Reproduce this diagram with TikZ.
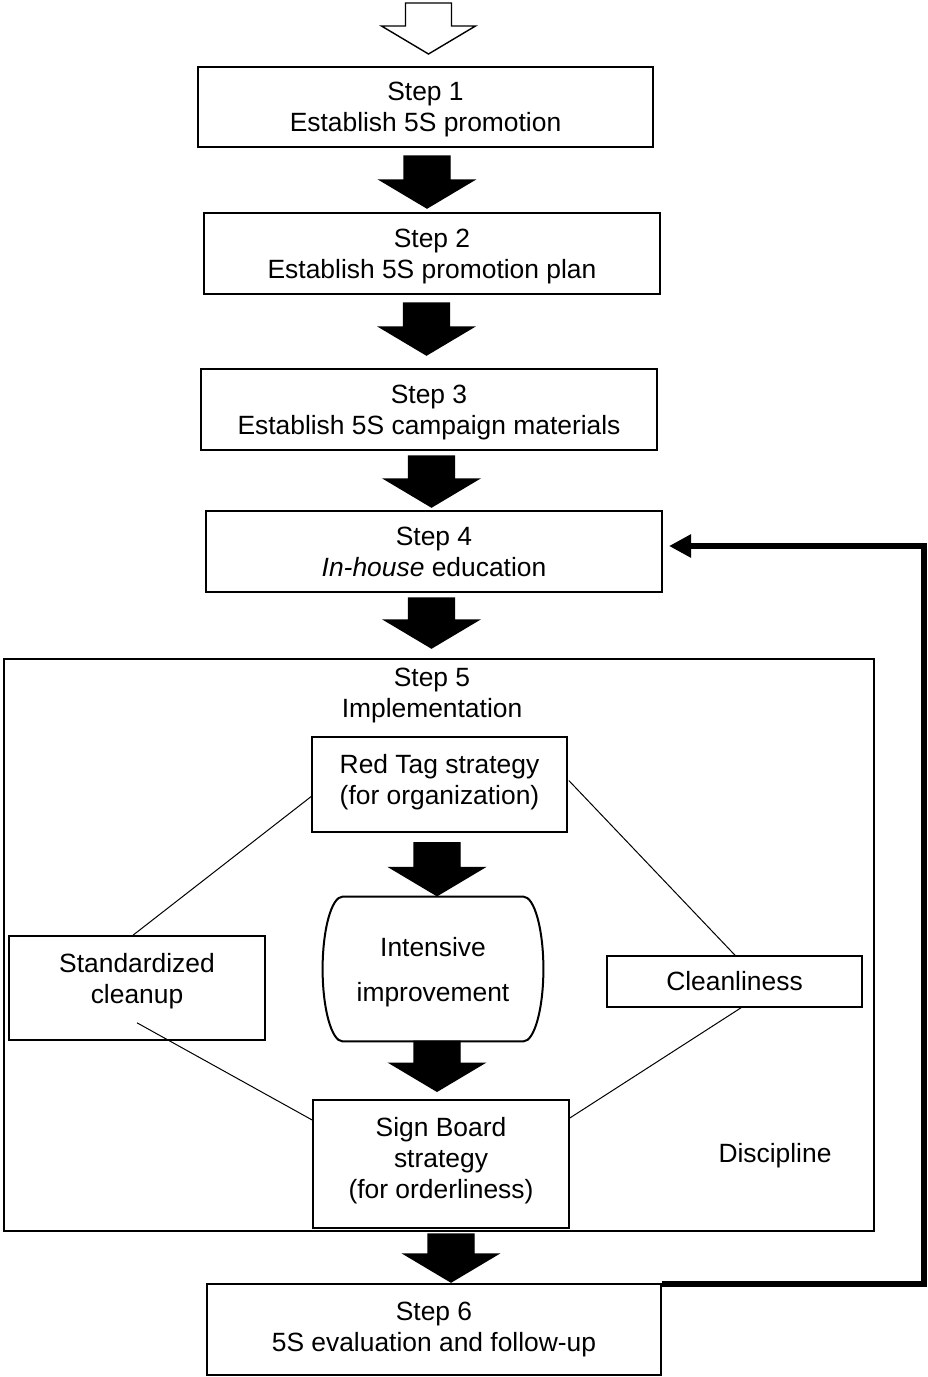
\documentclass[tikz,border=0pt]{standalone}
\usepackage{fontspec}
\setmainfont{Liberation Sans}
\usetikzlibrary{calc,arrows.meta}
\newcommand\txt{\fontsize{13.2pt}{15.5pt}\selectfont}
% block arrow: #1 fill, #2 start (only y used), #3 tip
\newcommand\blockarr[3][black]{%
  \filldraw[fill=#1,draw=black,line width=0.7pt,line join=miter] let \p1=(#2), \p2=(#3) in
   (\x2-11.5pt,\y1) -- (\x2+11.5pt,\y1) -- (\x2+11.5pt,\y2+14pt) -- (\x2+23.5pt,\y2+14pt)
   -- (\x2,\y2) -- (\x2-23.5pt,\y2+14pt) -- (\x2-11.5pt,\y2+14pt) -- cycle;}
\tikzset{
  stepbox/.style={draw, line width=1pt, minimum width=228pt, minimum height=40.5pt,
    inner sep=0pt, align=center, font=\txt},
  innerbox/.style={draw, line width=0.8pt, inner sep=0pt, align=center, font=\txt},
  plaintext/.style={inner sep=0pt, align=center, font=\txt},
  thinline/.style={line width=0.5pt},
  fbline/.style={line width=3pt, -{Triangle[length=11pt,width=11pt]}}
}
\begin{document}
\begin{tikzpicture}[x=0.5pt,y=-0.5pt]
\useasboundingbox (0,0) rectangle (927,1377);

% step boxes
\node[stepbox, minimum width=227.5pt, minimum height=40pt, text depth=0pt] (s1) at (425.5,107) {Step 1\\Establish 5S promotion};
\node[stepbox, text depth=0pt] (s2) at (432,253.5) {Step 2\\Establish 5S promotion plan};
\node[stepbox, text depth=0pt] (s3) at (429,409.5) {Step 3\\Establish 5S campaign materials};
\node[stepbox, text depth=0pt] (s4) at (434,551.5) {Step 4\\\textit{In-house} education};
\node[draw, line width=1pt, minimum width=435pt, minimum height=286pt, inner sep=0pt] (s5) at (439,945) {};
\node[plaintext] (s5t) at ($(s5.north)+(-7,38)$) {Step 5\\Implementation};
\node[stepbox, minimum width=227pt, minimum height=45.5pt] (s6) at (434,1329.5) {Step 6\\5S evaluation and follow-up};

% inner boxes
\node[innerbox, minimum width=127.5pt, minimum height=47.5pt, text depth=5pt] (rt) at (439.5,784.5) {Red Tag strategy\\(for organization)};
\node[innerbox, minimum width=128pt, minimum height=52pt, text depth=9.8pt] (sc) at (137,988) {Standardized\\cleanup};
\node[innerbox, minimum width=127.5pt, minimum height=25.5pt] (cl) at (734.5,981.5) {Cleanliness};
\node[innerbox, minimum width=128pt, minimum height=64pt, text depth=6.5pt] (sb) at (441,1164) {Sign Board\\strategy\\(for orderliness)};
\node[plaintext] (di) at (775,1156) {Discipline};

% intensive improvement (barrel shape)
\node[inner sep=0pt, minimum width=110pt, minimum height=72pt, align=center, text depth=0pt,
      font=\fontsize{13.2pt}{22.5pt}\selectfont] (ii) at (433,969) {Intensive\\improvement};
\coordinate (iA) at ($(ii.north west)+(20,0)$);
\coordinate (iB) at ($(ii.north east)+(-20,0)$);
\coordinate (iC) at ($(ii.south east)+(-20,0)$);
\coordinate (iD) at ($(ii.south west)+(20,0)$);
\draw[line width=1pt] (iA) -- (iB) .. controls +(11,0) and +(0,-39.7) .. (ii.east)
  .. controls +(0,39.7) and +(11,0) .. (iC) -- (iD)
  .. controls +(-11,0) and +(0,39.7) .. (ii.west)
  .. controls +(0,-39.7) and +(-11,0) .. (iA) -- cycle;

% thin connecting lines
\draw[thinline] ($(rt.west)+(0,12)$) -- ($(sc.north)+(-4,0)$);
\draw[thinline] ($(sc.south)+(0,-18)$) -- ($(sb.west)+(0,-44)$);
\draw[thinline] ($(rt.east)+(1,-4)$) -- ($(cl.north)+(0.5,0)$);
\draw[thinline] ($(cl.south)+(6.5,0)$) -- ($(sb.east)+(0,-46)$);

% block arrows
\coordinate (in) at (428.5,3);
\blockarr[white]{in}{$(s1.north)+(3,-12)$}
\blockarr{$(s1.south)+(0,8)$}{$(s2.north)+(-5,-4)$}
\blockarr{$(s2.south)+(0,8)$}{$(s3.north)+(-2.5,-13)$}
\blockarr{$(s3.south)+(0,5)$}{$(s4.north)+(-2.5,-3)$}
\blockarr{$(s4.south)+(0,5)$}{$(s5.north)+(-7.5,-10)$}
\blockarr{$(rt.south)+(0,10)$}{$(ii.north)+(4,-1)$}
\blockarr{$(ii.south)+(0,0)$}{$(sb.north)+(-4,-8)$}
\blockarr{$(s5.south)+(0,2)$}{$(s6.north)+(17,-1)$}

% feedback
\coordinate (fb) at (924,546);
\draw[fbline] ($(s6.north east)+(0,1)$) -| (fb) -- ($(s4.east)+(6,-5.5)$);
\end{tikzpicture}
\end{document}
